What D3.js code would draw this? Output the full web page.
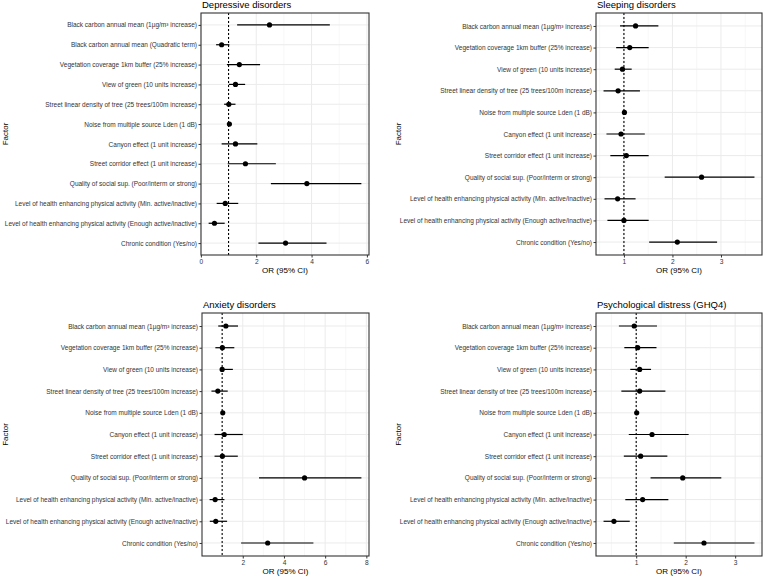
<!DOCTYPE html>
<html><head><meta charset="utf-8">
<script src="https://cdn.jsdelivr.net/npm/d3@7"></script>
<style>
html,body{margin:0;padding:0;background:#fff;}
svg{display:block;font-family:"Liberation Sans",Arial,sans-serif;}
</style></head>
<body><svg id="chart" width="765" height="577"></svg>
<script>
// ---------- data ----------
const factorsDep = [
  "Black carbon annual mean (1µg/m³ increase)",
  "Black carbon annual mean (Quadratic term)",
  "Vegetation coverage 1km buffer (25% increase)",
  "View of green (10 units increase)",
  "Street linear density of tree (25 trees/100m increase)",
  "Noise from multiple source Lden (1 dB)",
  "Canyon effect (1 unit increase)",
  "Street corridor effect (1 unit increase)",
  "Quality of social sup. (Poor/interm or strong)",
  "Level of health enhancing physical activity (Min. active/inactive)",
  "Level of health enhancing physical activity (Enough active/inactive)",
  "Chronic condition (Yes/no)"
];
const factorsOther = factorsDep.filter((d, i) => i !== 1);

const titles = ["Depressive disorders", "Sleeping disorders", "Anxiety disorders", "Psychological distress (GHQ4)"];

const depOR   = [2.48, 0.75, 1.39, 1.25, 1.01, 1.03, 1.25, 1.61, 3.83, 0.88, 0.49, 3.06];
const depLow  = [1.31, 0.55, 0.94, 1.01, 0.84, 0.98, 0.75, 0.97, 2.53, 0.57, 0.28, 2.08];
const depHigh = [4.66, 1.03, 2.14, 1.60, 1.25, 1.06, 2.04, 2.71, 5.80, 1.35, 0.86, 4.54];

const sleepOR   = [1.24, 1.12, 0.97, 0.88, 1.01, 0.94, 1.05, 2.60, 0.87, 1.00, 2.10];
const sleepLow  = [0.92, 0.84, 0.81, 0.58, 0.98, 0.64, 0.72, 1.84, 0.60, 0.66, 1.52];
const sleepHigh = [1.71, 1.51, 1.16, 1.33, 1.03, 1.43, 1.51, 3.69, 1.24, 1.51, 2.92];

const anxOR   = [1.18, 1.01, 1.00, 0.79, 1.03, 1.10, 1.01, 5.00, 0.66, 0.69, 3.21];
const anxLow  = [0.81, 0.67, 0.94, 0.48, 0.97, 0.63, 0.63, 2.79, 0.39, 0.40, 1.92];
const anxHigh = [1.77, 1.59, 1.52, 1.27, 1.07, 2.00, 1.76, 7.76, 1.11, 1.24, 5.43];

const ghqOR   = [0.96, 1.03, 1.07, 1.07, 1.01, 1.32, 1.09, 1.94, 1.13, 0.55, 2.37];
const ghqLow  = [0.65, 0.76, 0.88, 0.70, 0.99, 0.85, 0.75, 1.29, 0.78, 0.34, 1.76];
const ghqHigh = [1.42, 1.41, 1.30, 1.59, 1.03, 2.06, 1.63, 2.72, 1.65, 0.87, 3.39];

const ticksDep = [0, 2, 4, 6];
const ticksSleep = [1, 2, 3];
const ticksAnx = [2, 4, 6, 8];
const ticksGhq = [1, 2, 3];

const xTitle = "OR (95% CI)";
const yTitle = "Factor";
const refValue = 1;

// ---------- layout ----------
const panels = [
  {title: titles[0], factors: factorsDep, or: depOR, lo: depLow, hi: depHigh, ticks: ticksDep, box: {l: 201, r: 369, t: 13, b: 255}, fx: 8},
  {title: titles[1], factors: factorsOther, or: sleepOR, lo: sleepLow, hi: sleepHigh, ticks: ticksSleep, box: {l: 596, r: 762, t: 13, b: 255}, fx: 401},
  {title: titles[2], factors: factorsOther, or: anxOR, lo: anxLow, hi: anxHigh, ticks: ticksAnx, box: {l: 202, r: 369, t: 313, b: 556}, fx: 8},
  {title: titles[3], factors: factorsOther, or: ghqOR, lo: ghqLow, hi: ghqHigh, ticks: ticksGhq, box: {l: 596, r: 762, t: 313, b: 556}, fx: 401}
];

const svg = d3.select("#chart");

panels.forEach(p => {
  const B = p.box;
  const mn = d3.min(p.lo), mx = d3.max(p.hi);
  const pad = (mx - mn) * 0.05;
  const x = d3.scaleLinear().domain([mn - pad, mx + pad]).range([B.l, B.r]);
  const y = d3.scalePoint().domain(p.factors).range([B.t, B.b]).padding(0.6);

  const g = svg.append("g");

  // grid
  const step = p.ticks[1] - p.ticks[0];
  const minor = [];
  for (let v = p.ticks[0] - step / 2; v <= p.ticks[p.ticks.length - 1] + step; v += step) minor.push(v);
  const dom = x.domain();
  g.append("g").selectAll("line").data(minor.filter(v => v > dom[0] && v < dom[1])).join("line")
    .attr("x1", d => x(d)).attr("x2", d => x(d)).attr("y1", B.t).attr("y2", B.b)
    .attr("stroke", "#f2f2f2").attr("stroke-width", 0.6);
  g.append("g").selectAll("line").data(p.ticks).join("line")
    .attr("x1", d => x(d)).attr("x2", d => x(d)).attr("y1", B.t).attr("y2", B.b)
    .attr("stroke", "#ebebeb").attr("stroke-width", 1);
  g.append("g").selectAll("line").data(p.factors).join("line")
    .attr("x1", B.l).attr("x2", B.r).attr("y1", d => y(d)).attr("y2", d => y(d))
    .attr("stroke", "#ebebeb").attr("stroke-width", 1);

  // reference line
  g.append("line").attr("x1", x(refValue)).attr("x2", x(refValue)).attr("y1", B.t).attr("y2", B.b)
    .attr("stroke", "#000").attr("stroke-width", 1.1).attr("stroke-dasharray", "2,2");

  // error bars + points
  g.append("g").selectAll("line").data(p.factors).join("line")
    .attr("x1", (d, i) => x(p.lo[i])).attr("x2", (d, i) => x(p.hi[i]))
    .attr("y1", d => y(d)).attr("y2", d => y(d))
    .attr("stroke", "#000").attr("stroke-width", 1.2);
  g.append("g").selectAll("circle").data(p.factors).join("circle")
    .attr("cx", (d, i) => x(p.or[i])).attr("cy", d => y(d)).attr("r", 2.6).attr("fill", "#000");

  // border
  g.append("rect").attr("x", B.l).attr("y", B.t).attr("width", B.r - B.l).attr("height", B.b - B.t)
    .attr("fill", "none").attr("stroke", "#333").attr("stroke-width", 1.1);

  // axes
  const xa = g.append("g").attr("transform", `translate(0,${B.b})`)
    .call(d3.axisBottom(x).tickValues(p.ticks).tickFormat(d3.format("d")).tickSize(2.5).tickPadding(1.5));
  xa.select(".domain").remove();
  xa.selectAll(".tick line").attr("stroke", "#333");
  xa.selectAll(".tick text").attr("fill", "#333").style("font-size", "6.6px");

  const ya = g.append("g").attr("transform", `translate(${B.l},0)`)
    .call(d3.axisLeft(y).tickSize(2.5).tickPadding(1.5));
  ya.select(".domain").remove();
  ya.selectAll(".tick line").attr("stroke", "#333");
  ya.selectAll(".tick text").attr("fill", "#333").style("font-size", "6.5px");

  // titles
  g.append("text").attr("x", B.l + 1).attr("y", B.t - 5.5).text(p.title)
    .style("font-size", "9.5px").attr("fill", "#000");
  g.append("text").attr("x", (B.l + B.r) / 2).attr("y", B.b + 18).attr("text-anchor", "middle")
    .text(xTitle).style("font-size", "8px").attr("fill", "#000");
  g.append("text").attr("transform", `translate(${p.fx},${(B.t + B.b) / 2}) rotate(-90)`)
    .attr("text-anchor", "middle").text(yTitle).style("font-size", "8px").attr("fill", "#000");
});
</script></body></html>
